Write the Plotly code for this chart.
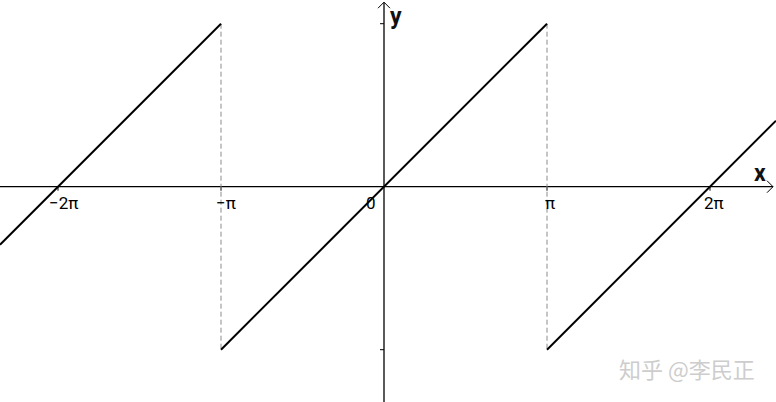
import math
import plotly.graph_objects as go

PI = math.pi
U = PI / 163.0  # data units per pixel (equal scaling)

# Sawtooth f(x) = x on (-pi, pi], periodic: segment end points
seg_x = [[-384 * U, -PI], [-PI, PI], [PI, 392 * U]]
seg_y = [[-384 * U + 2 * PI, PI], [-PI, PI], [-PI, 392 * U - 2 * PI]]

# Dashed jump lines
jump_x = [-PI, PI]
jump_y = [PI, -PI]

x_ticks = [-2 * PI, -PI, PI, 2 * PI]
x_tick_labels = ["−2π", "−π", "π", "2π"]
x_label_shift = [5, 5, 3, 4]
y_ticks = [PI, -PI]

fig = go.Figure()

xr = [-384 * U, 392 * U]
yr = [-215.3 * U, 186.7 * U]

# axes
fig.add_trace(go.Scatter(x=[xr[0], 389 * U], y=[0, 0], mode="lines",
                         line=dict(color="black", width=1.3), hoverinfo="skip"))
fig.add_trace(go.Scatter(x=[0, 0], y=[yr[0], 184.5 * U], mode="lines",
                         line=dict(color="black", width=1.3), hoverinfo="skip"))
# arrow heads (open chevrons)
fig.add_trace(go.Scatter(x=[-6 * U, 0, 6 * U], y=[178.5 * U, 184.5 * U, 178.5 * U], mode="lines",
                         line=dict(color="black", width=1), hoverinfo="skip"))
fig.add_trace(go.Scatter(x=[383 * U, 389 * U, 383 * U], y=[6 * U, 0, -6 * U], mode="lines",
                         line=dict(color="black", width=1), hoverinfo="skip"))

# ticks
for t in x_ticks:
    fig.add_trace(go.Scatter(x=[t, t], y=[0, -4 * U], mode="lines",
                             line=dict(color="black", width=1), hoverinfo="skip"))
for t in y_ticks:
    fig.add_trace(go.Scatter(x=[-4 * U, 0], y=[t, t], mode="lines",
                             line=dict(color="black", width=1), hoverinfo="skip"))

# dashed jump lines
for xv in jump_x:
    fig.add_trace(go.Scatter(x=[xv, xv], y=jump_y, mode="lines",
                             line=dict(color="#8c8c8c", width=1, dash="5px,3px"), hoverinfo="skip"))

# curve
for sx, sy in zip(seg_x, seg_y):
    fig.add_trace(go.Scatter(x=sx, y=sy, mode="lines",
                             line=dict(color="black", width=2), hoverinfo="skip"))

font = dict(family="Roboto, sans-serif", size=17, color="black")
for t, lab, sh in zip(x_ticks, x_tick_labels, x_label_shift):
    fig.add_annotation(x=t, y=0, text=lab, showarrow=False, xshift=sh, yshift=-16, font=font)
fig.add_annotation(x=0, y=0, text="0", showarrow=False, xshift=-13, yshift=-16, font=font)

fig.add_annotation(x=0, y=yr[1], text="<b>y</b>", showarrow=False, xanchor="left", yanchor="top",
                   xshift=4, yshift=-1, font=dict(family="Roboto, sans-serif", size=23, color="#111"))
fig.add_annotation(x=xr[1], y=0, text="<b>x</b>", showarrow=False, xanchor="right", yanchor="bottom",
                   xshift=-8, yshift=-2, font=dict(family="Roboto, sans-serif", size=23, color="#111"))

# watermark
fig.add_annotation(xref="paper", yref="paper", x=1 - 19 / 776, y=1 - 368 / 402,
                   xanchor="right", yanchor="middle", text="知乎 @李民正", showarrow=False,
                   font=dict(family="Noto Sans CJK SC", size=22, color="#cdcdcd"))

fig.update_layout(
    width=776, height=402, margin=dict(l=0, r=0, t=0, b=0),
    paper_bgcolor="white", plot_bgcolor="white", showlegend=False,
    xaxis=dict(range=xr, visible=False, fixedrange=True),
    yaxis=dict(range=yr, visible=False, fixedrange=True),
)
fig.write_html("out.html", config={"displayModeBar": False},
               post_script="document.body.style.margin='0';")
